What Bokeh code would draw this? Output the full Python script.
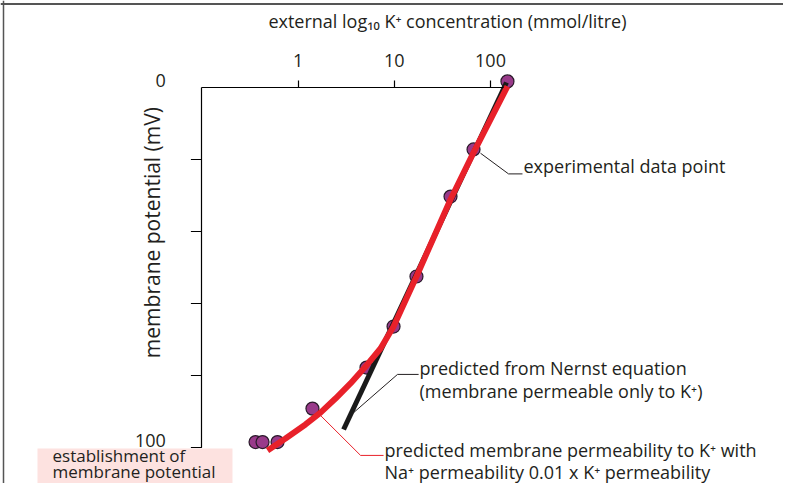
import math
from bokeh.plotting import figure
from bokeh.models import (Range1d, LogAxis, LinearAxis, FixedTicker, Label,
                          PrintfTickFormatter, Span)
from bokeh.core.properties import value
from bokeh.embed import file_html
from bokeh.resources import INLINE

# ---------------- data ----------------
# external K+ concentration (mmol/litre) and membrane potential magnitude (mV)
exp_conc = [150, 66.6, 38.4, 17.0, 9.82, 5.14, 1.41, 0.361, 0.427, 0.611]
exp_mv = [-1.7, 17.2, 30.3, 52.5, 66.4, 77.8, 89.2, 98.5, 98.5, 98.5]

nernst_conc = [2.97, 146.6]
nernst_mv = [95.0, -1.4]

ghk_conc = [0.481, 0.740, 1.194, 1.709, 2.447, 3.505, 5.14, 7.19, 9.82, 17.0, 38.4, 66.6, 150]
ghk_mv = [100.8, 97.5, 93.6, 90.3, 86.4, 82.2, 77.2, 72.5, 66.4, 52.5, 31.1, 18.1, -0.3]

x_ticks = [1, 10, 100]
y_ticks = [20, 40, 60, 80, 100]
y_label_vals = [0, 100]
y_label_text = ["0", "100"]

# ---------------- layout ----------------
W, H = 783, 483
DEC = 96.2          # px per decade
X100 = 490          # px of 100 mmol/l
Y0 = 87             # px of 0 mV
PXMV = 3.6          # px per mV

x_lo = 10 ** (2 + (0 - X100) / DEC)
x_hi = 10 ** (2 + (W - X100) / DEC)
y_top = (0 - Y0) / PXMV
y_bot = (H - Y0) / PXMV

FONT = "Open Sans"
TXT = "#231f20"
FS = "18px"
RED = "#e8212a"

p = figure(width=W, height=H, x_axis_type="log",
           x_range=Range1d(x_lo, x_hi), y_range=Range1d(y_bot, y_top),
           x_axis_location=None, y_axis_location=None,
           output_backend="svg", toolbar_location=None,
           min_border=0, outline_line_color=None,
           background_fill_color="white", border_fill_color="white")
p.grid.visible = False

# page border (top/left)
p.add_layout(Span(location=(3.5 - Y0) / PXMV, dimension="width", line_color="#555555", line_width=2))
p.add_layout(Span(location=10 ** (2 + (3 - X100) / DEC), dimension="height", line_color="#555555", line_width=1.5))

# axes
ax_left_x = 0.1
xaxis = LogAxis(fixed_location=0, bounds=(ax_left_x, 136.5),
                ticker=FixedTicker(ticks=x_ticks, minor_ticks=[]),
                formatter=PrintfTickFormatter(format="%d"),
                major_tick_out=7, major_tick_in=0, minor_tick_out=0, minor_tick_in=0,
                axis_line_color="black", axis_line_width=1.2,
                major_tick_line_color="black", major_tick_line_width=1.2,
                major_label_text_font=FONT, major_label_text_font_size=FS,
                major_label_text_color=TXT, major_label_standoff=14)
p.add_layout(xaxis, "above")

yaxis = LinearAxis(fixed_location=ax_left_x, bounds=(0, 100),
                   ticker=FixedTicker(ticks=[], minor_ticks=[]),
                   major_tick_out=0, major_tick_in=0, minor_tick_out=0, minor_tick_in=0,
                   axis_line_color="black", axis_line_width=1.2)
p.add_layout(yaxis, "left")

# y tick marks (11 px long, to the left of the axis) and labels
tick_x0 = ax_left_x * 10 ** (-11 / DEC)
p.segment(x0=[tick_x0] * len(y_ticks), y0=y_ticks, x1=[ax_left_x] * len(y_ticks), y1=y_ticks,
          line_color="black", line_width=1.2)
p.text(x=[ax_left_x] * len(y_label_vals), y=y_label_vals, text=y_label_text,
       x_offset=-36, y_offset=-7, text_align="right", text_baseline="middle",
       text_font=value(FONT), text_font_size=FS, text_color=TXT)

# pink box
p.quad(left=[0.001954], right=[0.208], top=[100.3], bottom=[112.0],
       fill_color="#fde2e0", line_color=None)

# data
p.scatter(exp_conc, exp_mv, size=13, fill_color="#993a8a", line_color="#2a1a2a", line_width=1.2)
p.line(nernst_conc, nernst_mv, line_color="#1a1a1a", line_width=5)
p.line(ghk_conc, ghk_mv, line_color=RED, line_width=6)

# leader lines
p.line([78.7, 154, 215], [18.25, 24.0, 24.0], line_color=TXT, line_width=1)
p.line([3.67, 10.8, 17.9], [90.6, 79.7, 79.7], line_color=TXT, line_width=1)
p.line([1.71, 4.46, 7.73], [91.1, 102.2, 102.2], line_color=RED, line_width=1)

def lab(x, y, t, align="left", angle=0.0, size=FS):
    p.add_layout(Label(x=x, y=y, text=t, text_align=align, text_baseline="middle",
                       angle=angle, text_font=FONT, text_font_size=size, text_color=TXT))

lab(35.7, -18.6, "external log\u2081\u2080 K\u207a concentration (mmol/litre)", "center")
lab(0.0306, 40.3, "membrane potential (mV)", "center", math.pi / 2, "21px")
lab(220.3, 21.9, "experimental data point")
lab(18.3, 77.8, "predicted from Nernst equation")
lab(18.3, 84.2, "(membrane permeable only to K\u207a)")
lab(7.91, 100.6, "predicted membrane permeability to K\u207a  with")
lab(7.91, 106.9, "Na\u207a permeability 0.01 x K\u207a permeability")
lab(0.0028, 102.2, "establishment of", size="17px")
lab(0.0028, 106.8, "membrane potential", size="17px")

open("out.html", "w").write(file_html(p, INLINE))
